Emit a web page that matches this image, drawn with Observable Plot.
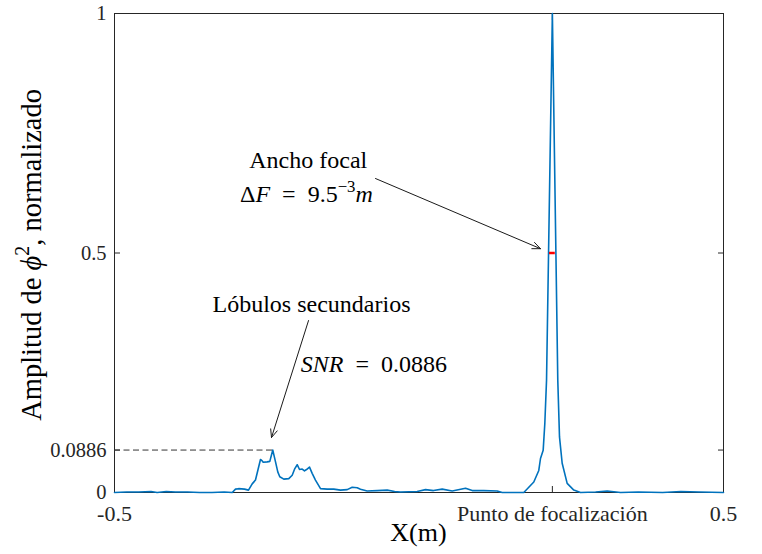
<!DOCTYPE html>
<html><head><meta charset="utf-8">
<script src="https://cdn.jsdelivr.net/npm/d3@7"></script>
<script src="https://cdn.jsdelivr.net/npm/@observablehq/plot@0.6"></script>
<style>
html,body{margin:0;padding:0;background:#fff}
#chart svg{display:block}
</style>
</head><body><div id="chart"></div>
<script>
// ---- data ----
const xValues = [-0.5, -0.48, -0.46, -0.44, -0.43, -0.415, -0.40, -0.38, -0.36, -0.34, -0.32,
  -0.3067, -0.3013, -0.2964, -0.2865, -0.2800, -0.2739, -0.2685, -0.2647, -0.2603, -0.2575,
  -0.2558, -0.2493, -0.2450, -0.2401, -0.2356, -0.2319, -0.2286, -0.2220, -0.2138, -0.2082,
  -0.2039, -0.2000, -0.1962, -0.1918, -0.1880, -0.1847, -0.1798, -0.1754, -0.1700, -0.1617,
  -0.1507, -0.1399, -0.1289, -0.1179, -0.1097, -0.1015, -0.0961, -0.0851, -0.0686, -0.0522,
  -0.0400, -0.0304, -0.0030, 0.0107, 0.0238, 0.0381, 0.0545, 0.0764, 0.0874, 0.1064, 0.1284,
  0.1366, 0.1721, 0.1885, 0.1967, 0.1995, 0.2039, 0.2066, 0.2094, 0.2190, 0.2279, 0.2307,
  0.2351, 0.2433, 0.2542, 0.2652, 0.2900, 0.3090, 0.3310, 0.3600, 0.4000, 0.4300, 0.4600, 0.5];
const yValues = [0.000, 0.001, 0.001, 0.002, 0.000, 0.002, 0.001, 0.001, 0.000, 0.000, 0.001,
  0.000, 0.007, 0.008, 0.007, 0.005, 0.018, 0.026, 0.046, 0.069, 0.066,
  0.063, 0.064, 0.065, 0.0886, 0.064, 0.043, 0.033, 0.028, 0.029, 0.036,
  0.050, 0.058, 0.048, 0.049, 0.045, 0.048, 0.053, 0.040, 0.026, 0.008,
  0.007, 0.007, 0.005, 0.006, 0.011, 0.010, 0.007, 0.003, 0.004, 0.005,
  0.002, 0.001, 0.002, 0.006, 0.004, 0.007, 0.003, 0.009, 0.004, 0.004, 0.003,
  0.000, 0.000, 0.022, 0.046, 0.071, 0.088, 0.144, 0.234, 1.000, 0.234, 0.116,
  0.061, 0.019, 0.005, 0.000, 0.001, 0.003, 0.000, 0.001, 0.000, 0.002, 0.001, 0.000];

const xTicks = [-0.5, 0.219, 0.5];
const xTickLabels = ["-0.5", "Punto de focalización", "0.5"];
const yTicks = [0, 0.0886, 0.5, 1];
const yTickLabels = ["0", "0.0886", "0.5", "1"];

const snrLevel = 0.0886;
const snrPeakX = -0.2401;
const focalLeft = 0.2143;
const focalRight = 0.2238;
const halfLevel = 0.5;

// annotation arrows: start and end points in data units
const arrowStarts = [[-0.0714, 0.6555], [-0.1814, 0.359]];
const arrowEnds = [[0.1995, 0.509], [-0.2422, 0.1148]];

// annotation anchors in data units
const anchoPos = [-0.181, 0.676];
const deltaPos = [-0.184, 0.606];
const lobulosPos = [-0.1757, 0.3764];
const snrPos = [-0.1934, 0.2511];

// ---- build ----
const series = xValues.map((x, i) => ({x, y: yValues[i]}));
const arrowData = arrowStarts.map((s, i) => ({x1: s[0], y1: s[1], x2: arrowEnds[i][0], y2: arrowEnds[i][1]}));
const FONT = "'Liberation Serif', 'Times New Roman', serif";
const axisColor = "#262626";

const chart = Plot.plot({
  width: 762,
  height: 554,
  marginLeft: 114,
  marginRight: 39,
  marginTop: 13,
  marginBottom: 62,
  style: {fontFamily: FONT, background: "#fff", color: axisColor},
  x: {domain: [-0.5, 0.5]},
  y: {domain: [0, 1]},
  marks: [
    Plot.frame({stroke: axisColor, strokeWidth: 1}),
    // inward ticks on all four sides
    Plot.axisX(xTicks, {anchor: "bottom", tickSize: -6, tickFormat: () => "", label: null, stroke: axisColor}),
    Plot.axisX(xTicks, {anchor: "top", tickSize: -6, tickFormat: () => "", label: null, stroke: axisColor}),
    Plot.axisY(yTicks, {anchor: "left", tickSize: -6, tickFormat: () => "", label: null, stroke: axisColor}),
    Plot.axisY(yTicks, {anchor: "right", tickSize: -6, tickFormat: () => "", label: null, stroke: axisColor}),
    // tick labels
    Plot.axisX(xTicks, {anchor: "bottom", tickSize: 0, tickPadding: 13, fontSize: 22, fill: axisColor,
      tickFormat: d => xTickLabels[xTicks.indexOf(d)], label: null}),
    Plot.axisY(yTicks, {anchor: "left", tickSize: 0, tickPadding: 8, fontSize: 20.5, fill: axisColor,
      tickFormat: d => yTickLabels[yTicks.indexOf(d)], label: null}),
    // dashed SNR level
    Plot.ruleY([snrLevel], {x1: -0.5, x2: snrPeakX, stroke: "#333", strokeWidth: 1, strokeDasharray: "6,3.5"}),
    // signal
    Plot.line(series, {x: "x", y: "y", stroke: "#0072BD", strokeWidth: 1.6}),
    // focal width marker
    Plot.ruleY([halfLevel], {x1: focalLeft, x2: focalRight, stroke: "#ff0000", strokeWidth: 2.5}),
    // arrows
    Plot.arrow(arrowData, {x1: "x1", y1: "y1", x2: "x2", y2: "y2", stroke: "#1a1a1a", strokeWidth: 1, headLength: 13, headAngle: 46, bend: 0})
  ]
});
document.getElementById("chart").append(chart);

const sx = chart.scale("x"), sy = chart.scale("y");
const svg = d3.select(chart);

function addText(x, y, anchor, parts, size, rotate) {
  const t = svg.append("text")
    .attr("font-family", FONT)
    .attr("font-size", size)
    .attr("fill", "#000")
    .attr("text-anchor", anchor);
  if (rotate) t.attr("transform", `translate(${x},${y}) rotate(${rotate})`);
  else t.attr("x", x).attr("y", y);
  let raised = 0;
  for (const [txt, st] of parts) {
    const s = t.append("tspan").text(txt);
    if (st === "i") s.attr("font-style", "italic");
    if (st === "sup") {
      s.attr("font-size", size * 0.7).attr("dy", -size * 0.42);
      raised = size * 0.42;
    } else if (raised) {
      s.attr("dy", raised);
      raised = 0;
    }
  }
  return t;
}

const EQ = "\u2002=\u2002";
addText(sx.apply(anchoPos[0]), sy.apply(anchoPos[1]), "middle", [["Ancho focal", "n"]], 24);
addText(sx.apply(deltaPos[0]), sy.apply(deltaPos[1]), "middle",
  [["Δ", "n"], ["F", "i"], [EQ + "9.5", "n"], ["−3", "sup"], ["m", "i"]], 24);
addText(sx.apply(lobulosPos[0]), sy.apply(lobulosPos[1]), "middle", [["Lóbulos secundarios", "n"]], 24);
addText(sx.apply(snrPos[0]), sy.apply(snrPos[1]), "start", [["SNR", "i"], [EQ + "0.0886", "n"]], 24);
// axis titles
addText(sx.apply(0), 541, "middle", [["X(m)", "n"]], 26);
addText(41, sy.apply(0.495), "middle",
  [["Amplitud de ", "n"], ["ϕ", "i"], ["2", "sup"], [", normalizado", "n"]], 28.5, -90);
</script>
</body></html>
